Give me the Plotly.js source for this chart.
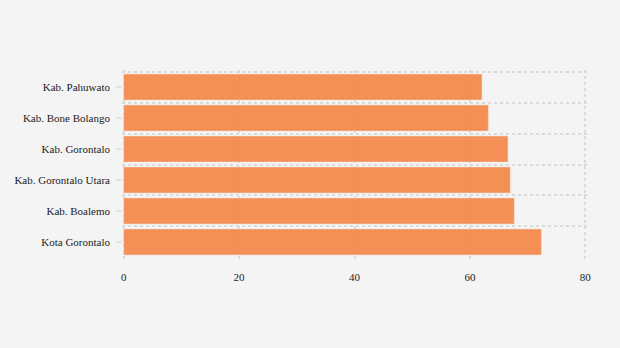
<!DOCTYPE html>
<html>
<head>
<meta charset="utf-8">
<script src="https://cdn.plot.ly/plotly-3.0.1.min.js"></script>
<style>html,body{margin:0;padding:0;background:#f4f4f4;}#chart{width:620px;height:348px;}</style>
</head>
<body>
<div id="chart"></div>
<script>
const categories = ["Kab. Pahuwato", "Kab. Bone Bolango", "Kab. Gorontalo", "Kab. Gorontalo Utara", "Kab. Boalemo", "Kota Gorontalo"];
const values = [62.1, 63.2, 66.6, 67.0, 67.7, 72.4];
const xTicks = [0, 20, 40, 60, 80];

const font = {family: "'Liberation Serif', 'Times New Roman', serif", size: 11, color: "#222"};
const gridColor = "#dadada";

const data = [{
  type: "bar",
  orientation: "h",
  y: categories,
  x: values,
  marker: {color: "#f4884a", opacity: 0.93, line: {color: "#f7e3d6", width: 0.5}},
  hoverinfo: "x+y"
}];

// small tick marks at each category centre, left of the plot area
const tickShapes = categories.map(c => ({
  type: "line", xref: "paper", yref: "y", x0: -0.012, x1: -0.001, y0: c, y1: c,
  line: {color: gridColor, width: 1.5}, layer: "below"
}));

const layout = {
  width: 620, height: 348,
  paper_bgcolor: "#f4f4f4", plot_bgcolor: "#f4f4f4",
  margin: {l: 122, r: 33, t: 70, b: 89},
  font: font,
  showlegend: false,
  bargap: 0.16,
  shapes: tickShapes,
  xaxis: {
    range: [-0.3, 80.3], tickvals: xTicks, ticktext: xTicks.map(String),
    showgrid: true, gridcolor: gridColor, gridwidth: 2, griddash: "dot",
    zeroline: false, showline: false, ticks: "", ticklabelstandoff: 10,
    tickfont: font, fixedrange: true
  },
  yaxis: {
    type: "category", categoryarray: categories,
    range: [categories.length - 0.5 + 0.05, -0.55],
    tickson: "boundaries", ticks: "", showgrid: true, gridcolor: gridColor, gridwidth: 2, griddash: "dot",
    zeroline: false, showline: false, ticklabelstandoff: 11,
    tickfont: font, fixedrange: true
  }
};

Plotly.newPlot("chart", data, layout, {displayModeBar: false, staticPlot: true});
</script>
</body>
</html>
